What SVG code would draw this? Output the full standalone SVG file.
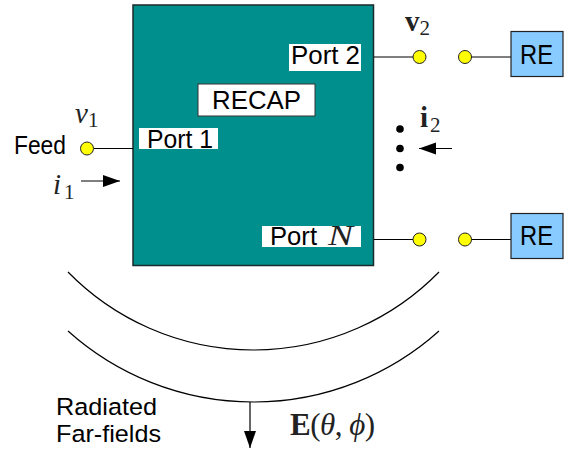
<svg xmlns="http://www.w3.org/2000/svg" width="576" height="452" viewBox="0 0 576 452">
<style>
.t{font-family:"Liberation Sans",Arial,sans-serif;font-size:26px;fill:#000}
.f{font-size:24.500px}
.r{font-size:28px}
.m{font-family:"Liberation Serif","Times New Roman",serif;fill:#222}
.i{font-style:italic}
.b{font-weight:bold}
.s{font-size:21px;font-style:normal;font-weight:normal}
.l{fill:none;stroke:#000;stroke-width:1.2}
.p{fill:#ffff00;stroke:#222;stroke-width:1}
.re{fill:#87cbff;stroke:#222;stroke-width:1.2}
.w{fill:#fff}
</style>
<defs>
<marker id="a" markerUnits="userSpaceOnUse" markerWidth="18" markerHeight="14" refX="17" refY="6" orient="auto"><path d="M0 0L17 6L0 12Z" fill="#000"/></marker>
</defs>
<g id="recap-box">
<rect x="133" y="5" width="240.500" height="260.500" fill="#008f8c" stroke="#1a2a2a" stroke-width="1.500"/>
</g>
<g id="connectors">
<path class="l" d="M94 148.500H133"/>
<path class="l" d="M374 57H413"/>
<path class="l" d="M471 57H511"/>
<path class="l" d="M374 239.500H413"/>
<path class="l" d="M471 239.500H511"/>
<path class="l" d="M81 181H120" marker-end="url(#a)"/>
<path class="l" d="M452 148.500H419" marker-end="url(#a)"/>
<path class="l" d="M250 402V448" marker-end="url(#a)"/>
<path class="l" d="M68 272A259.600 259.600 0 0 0 439 272"/>
<path class="l" d="M68 331A277.800 277.800 0 0 0 439 331"/>
</g>
<g id="recap-label">
<rect x="198" y="84" width="117" height="32" class="w" stroke="#333" stroke-width="1"/>
<text class="t" x="212" y="109" textLength="89" lengthAdjust="spacingAndGlyphs">RECAP</text>
</g>
<g id="port-1">
<rect x="139" y="128" width="79" height="21" class="w"/>
<text class="t" x="147" y="148" textLength="66" lengthAdjust="spacingAndGlyphs">Port 1</text>
</g>
<g id="port-2">
<rect x="289" y="44" width="72" height="27" class="w"/>
<text class="t" x="291" y="64" textLength="69" lengthAdjust="spacingAndGlyphs">Port 2</text>
</g>
<g id="port-n">
<rect x="262" y="226" width="99" height="21" class="w"/>
<text class="t" x="270" y="245" textLength="47" lengthAdjust="spacingAndGlyphs">Port</text>
<text class="m i" x="328" y="245" font-size="29" textLength="25" lengthAdjust="spacingAndGlyphs">N</text>
</g>
<g id="feed">
<text class="t" x="14" y="154" textLength="52" lengthAdjust="spacingAndGlyphs">Feed</text>
<circle class="p" cx="87" cy="148.500" r="6.500"/>
</g>
<g id="v1"><text class="m i" x="75" y="123" font-size="29">v<tspan class="s" dy="4">1</tspan></text></g>
<g id="i1"><text class="m i" x="53" y="194" font-size="29">i<tspan class="s" dx="3" dy="5">1</tspan></text></g>
<g id="v2"><text class="m b" x="405" y="31" font-size="29">v<tspan class="s" dy="4">2</tspan></text></g>
<g id="i2"><text class="m b" x="420" y="127" font-size="29">i<tspan class="s" dx="2" dy="5">2</tspan></text></g>
<g id="port-2-terminals">
<circle class="p" cx="419.500" cy="57" r="6.500"/>
<circle class="p" cx="465" cy="57" r="6.500"/>
</g>
<g id="port-n-terminals">
<circle class="p" cx="419.500" cy="239.500" r="6.500"/>
<circle class="p" cx="465" cy="239.500" r="6.500"/>
</g>
<g id="ellipsis">
<circle cx="400" cy="129" r="3.800"/>
<circle cx="400" cy="148.500" r="3.800"/>
<circle cx="400" cy="167.500" r="3.800"/>
</g>
<g id="re-1">
<rect class="re" x="511" y="31.500" width="52" height="45"/>
<text class="t r" x="520" y="64" textLength="33" lengthAdjust="spacingAndGlyphs">RE</text>
</g>
<g id="re-n">
<rect class="re" x="511" y="213.500" width="52" height="45"/>
<text class="t r" x="520" y="245" textLength="33" lengthAdjust="spacingAndGlyphs">RE</text>
</g>
<g id="far-fields">
<text class="t f" x="56" y="415" textLength="101" lengthAdjust="spacingAndGlyphs">Radiated</text>
<text class="t f" x="56" y="442" textLength="105" lengthAdjust="spacingAndGlyphs">Far-fields</text>
</g>
<g id="e-field">
<text class="m" x="290" y="435" font-size="31" textLength="85"><tspan class="b">E</tspan>(<tspan class="i">θ</tspan>, <tspan class="i">ϕ</tspan>)</text>
</g>
</svg>
